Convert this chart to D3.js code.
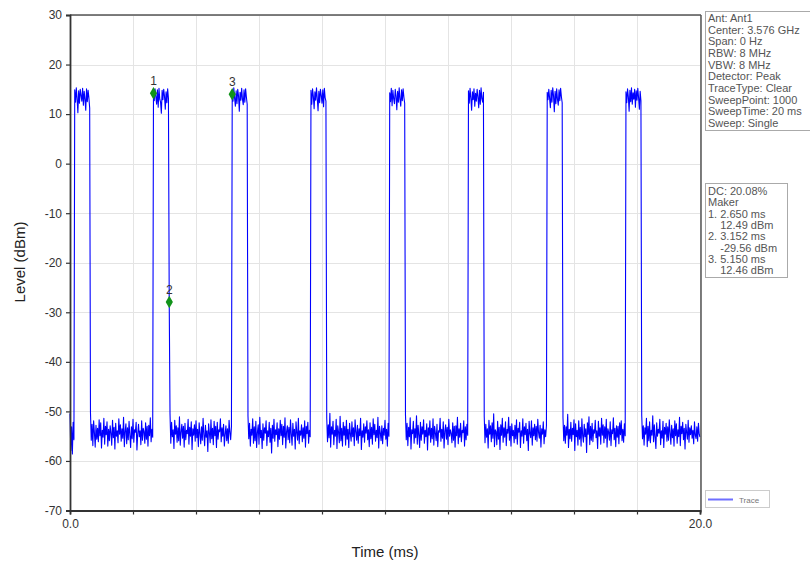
<!DOCTYPE html>
<html><head><meta charset="utf-8">
<script src="https://cdn.jsdelivr.net/npm/d3@7/dist/d3.min.js"></script>
<style>
body{margin:0;background:#fff}
text{font-family:"Liberation Sans",Arial,Helvetica,sans-serif}
</style>
</head><body>
<svg id="chart" width="810" height="565"></svg>
<script>
// ---------- data ----------
const sweepTimeMs = 20;
const xDomain = [0, 20];
const yDomain = [-70, 30];
const xTicks = [0, 2, 4, 6, 8, 10, 12, 14, 16, 18, 20];
const xTickLabels = ["0.0", "", "", "", "", "", "", "", "", "", "20.0"];
const yTicks = [30, 20, 10, 0, -10, -20, -30, -40, -50, -60, -70];

// trace levels (dBm), equally spaced sweep points over 0..20 ms
const traceLevels = [
-50.4,-57.9,-53.1,-58.6,-52.2,-55.7,
14.9,12.4,15.3,13.1,10.3,14.7,12.2,15.0,13.8,12.6,15.2,11.8,14.6,13.0,10.8,15.1,12.5,14.8,13.3,11.2,
-50.2,-55.8,-52.6,-56.9,-51.9,-54.3,-57.2,-52.8,-55.6,-53.4,
-56.1,-51.7,-54.9,-52.3,-57.4,-53.8,-55.2,-51.4,-56.6,-53.0,
-54.7,-52.1,-57.0,-53.6,-55.9,-52.9,-54.4,-56.8,-51.8,-55.3,
-53.2,-57.6,-52.4,-55.0,-53.9,-56.3,-51.5,-54.6,-52.7,-56.0,
-53.5,-55.4,-51.2,-57.1,-54.0,-52.5,-56.5,-53.3,-55.7,-52.0,
-54.8,-57.3,-53.1,-55.5,-51.6,-56.2,-53.7,-54.2,-52.2,-57.8,
-54.5,-52.6,-55.1,-53.9,-56.7,-51.9,-55.8,-53.4,-54.1,-56.4,
-52.3,-55.6,-53.0,-57.0,-52.8,-54.9,-51.3,-56.1,-53.6,-55.2,
14.2,12.7,15.1,13.5,12.0,14.9,11.4,15.2,13.0,12.4,10.2,14.8,12.9,15.0,13.6,11.0,14.5,12.3,15.1,13.2,
-27.9,
-50.5,-56.4,-52.2,-55.1,-53.7,-57.5,-51.8,-54.6,-52.9,-56.2,
-53.3,-55.9,-51.1,-56.8,-54.2,-52.6,-55.4,-53.0,-57.2,-52.4,
-55.7,-53.8,-54.5,-51.6,-56.6,-53.2,-55.0,-52.1,-57.7,-53.5,
-54.8,-52.7,-56.0,-51.9,-55.3,-53.6,-57.1,-52.3,-54.4,-56.5,
-53.1,-55.8,-51.4,-54.7,-56.9,-52.8,-55.2,-53.9,-58.1,-52.5,
-54.3,-56.3,-51.7,-55.5,-53.4,-56.7,-52.0,-54.9,-53.0,-57.3,
-52.2,-55.6,-53.7,-54.1,-51.5,-56.1,-53.3,-55.0,-52.6,-57.0,
-54.6,-52.9,-55.9,-53.5,-56.4,-51.8,-54.2,-55.7,-53.1,
14.0,12.6,15.3,13.2,11.6,14.7,12.1,15.0,13.7,10.6,14.4,12.8,15.2,13.0,11.9,14.9,12.4,15.1,13.4,12.0,
-50.9,-55.5,-52.4,-57.0,-53.6,-54.8,-51.5,-56.4,-53.1,-55.9,
-52.0,-57.3,-54.2,-52.7,-56.6,-51.2,-55.3,-53.8,-57.5,-52.5,
-55.8,-53.3,-54.4,-51.9,-56.9,-53.9,-55.1,-52.2,-56.2,-53.4,
-58.4,-52.8,-55.4,-51.6,-56.0,-53.7,-54.7,-52.3,-57.1,-53.5,
-55.6,-51.8,-54.9,-52.6,-56.7,-53.0,-55.2,-51.3,-57.4,-54.1,
-52.9,-55.7,-53.2,-56.3,-51.7,-54.6,-56.8,-52.4,-55.0,-53.6,
-57.6,-52.1,-54.3,-55.8,-51.4,-56.5,-53.9,-54.8,-52.7,-56.1,
-53.3,-55.4,-51.9,-57.2,-53.0,-54.5,-52.2,-56.4,-53.8,-55.1,
14.8,12.0,15.1,13.6,11.1,14.5,12.8,15.3,13.1,10.7,14.6,12.3,15.0,13.8,12.2,14.9,11.5,15.2,13.3,12.6,
-51.3,-56.1,-52.7,-55.3,-50.4,-57.2,-53.1,-54.6,-52.0,-56.7,
-53.8,-55.0,-51.6,-57.5,-52.9,-54.2,-56.3,-51.0,-55.9,-53.4,
-57.0,-52.2,-54.8,-53.0,-56.8,-51.8,-55.6,-53.6,-57.3,-52.4,
-54.5,-56.0,-52.1,-55.1,-53.3,-56.9,-51.7,-54.1,-55.8,-52.8,
-56.4,-53.5,-54.9,-51.4,-57.7,-53.9,-55.2,-52.5,-56.2,-53.1,
-54.4,-51.9,-55.7,-53.7,-57.1,-52.3,-55.5,-53.2,-56.6,-51.5,
-54.7,-52.6,-56.0,-53.8,-55.3,-51.2,-57.4,-53.0,-54.3,-55.9,
-52.9,-56.5,-53.4,-54.8,-51.8,-55.6,-53.6,-57.0,-52.4,-55.0,
14.3,12.5,15.2,11.7,14.8,13.1,12.1,15.0,13.6,10.9,14.6,12.4,15.3,13.0,11.6,14.9,12.7,15.1,13.4,12.2,
-50.7,-55.7,-52.4,-56.9,-53.2,-55.1,-51.3,-57.6,-53.7,-54.5,
-52.0,-56.4,-53.5,-55.3,-50.9,-56.6,-52.8,-54.7,-57.3,-52.2,
-55.8,-53.1,-54.6,-51.7,-56.4,-53.8,-55.1,-52.5,-57.8,-53.3,
-54.8,-51.9,-56.2,-53.4,-55.5,-51.5,-56.8,-53.0,-54.4,-55.9,
-52.6,-57.1,-53.9,-54.2,-51.4,-56.0,-53.6,-55.4,-52.1,-57.4,
-54.0,-52.7,-55.6,-53.2,-56.7,-51.6,-55.0,-53.7,-54.5,-56.3,
-52.3,-55.8,-53.0,-57.2,-52.9,-54.9,-51.2,-56.5,-53.5,-55.2,
-52.4,-56.1,-53.8,-54.3,-51.9,-57.0,-53.1,-55.7,-52.6,-54.8,
14.7,12.2,15.2,13.3,10.8,14.5,12.9,15.1,11.6,14.2,12.6,15.0,13.5,11.3,14.8,12.0,15.3,13.1,12.4,14.4,
-51.0,-56.3,-52.6,-55.2,-53.5,-57.4,-51.8,-54.6,-52.9,-56.1,
-52.3,-55.4,-50.5,-57.1,-53.7,-54.1,-56.7,-52.0,-55.6,-53.2,
-57.7,-52.7,-54.8,-51.4,-56.2,-53.3,-55.2,-52.1,-56.9,-53.6,
-54.4,-51.2,-55.8,-53.0,-57.0,-52.5,-54.9,-53.8,-56.3,-52.8,
-55.5,-51.7,-56.6,-53.4,-54.2,-52.2,-57.3,-53.9,-55.0,-51.5,
-56.4,-53.1,-54.7,-52.4,-55.9,-53.6,-57.9,-52.0,-54.5,-55.3,
-51.9,-56.8,-53.3,-54.9,-52.6,-55.7,-53.0,-56.0,-51.6,-54.3,
-55.4,-52.8,-57.2,-53.5,-54.6,-52.1,-56.5,-53.7,-55.1,-52.9,
14.4,12.9,15.0,13.2,11.3,14.8,12.4,15.3,13.7,10.5,14.6,12.1,15.1,13.0,11.8,14.9,12.7,15.2,13.5,12.3,
-51.2,-55.9,-52.8,-56.4,-53.1,-54.8,-50.6,-57.3,-53.6,-55.5,
-52.2,-56.0,-53.4,-54.7,-51.7,-57.9,-52.5,-55.1,-53.8,-56.8,
-51.9,-55.6,-53.2,-57.0,-51.5,-54.9,-56.2,-52.6,-55.1,-53.5,
-58.3,-52.3,-54.6,-51.1,-56.7,-53.0,-55.8,-52.4,-56.1,-53.7,
-54.4,-51.8,-55.3,-53.9,-57.5,-52.0,-55.0,-53.3,-56.6,-51.4,
-54.8,-52.7,-56.3,-53.1,-55.4,-51.6,-57.2,-53.5,-54.2,-55.8,
-52.1,-56.9,-53.7,-54.5,-51.3,-55.7,-53.4,-57.1,-52.9,-55.2,
-53.0,-56.5,-52.3,-54.7,-51.9,-55.9,-53.6,-56.2,-52.5,-54.9,
14.5,12.3,15.1,13.5,10.6,14.8,12.5,15.3,12.0,14.3,13.0,15.0,11.4,14.7,12.8,15.2,13.3,11.0,14.6,12.7,
-50.8,-55.5,-52.9,-56.8,-53.3,-54.6,-51.4,-57.1,-53.0,-55.9,
-52.1,-56.3,-53.8,-54.8,-50.9,-56.1,-52.7,-55.2,-57.5,-52.3,
-55.0,-53.6,-54.4,-51.6,-56.7,-53.9,-55.4,-52.0,-57.3,-53.2,
-54.6,-52.4,-56.0,-53.1,-55.8,-51.7,-54.3,-56.6,-52.8,-55.3,
-53.5,-57.0,-51.9,-54.9,-52.5,-56.4,-53.7,-55.1,-51.2,-56.9,
-53.0,-54.5,-52.2,-55.7,-53.4,-57.6,-52.6,-54.2,-55.6,-51.8,
-56.2,-53.3,-54.7,-52.9,-55.4,-53.8,-56.5,-52.1,-54.8,-55.5,
-53.1,-56.0,-52.4,-54.6,-55.2
];

const markerLabels = ["1", "2", "3"];
const markerTimes = [2.650, 3.152, 5.150];
const markerLevels = [14.2, -27.9, 14.0];

const infoLines = [
  "Ant: Ant1", "Center: 3.576 GHz", "Span: 0 Hz", "RBW: 8 MHz", "VBW: 8 MHz",
  "Detector: Peak", "TraceType: Clear", "SweepPoint: 1000", "SweepTime: 20 ms", "Sweep: Single"
];
const markerInfoLines = [
  "DC: 20.08%", "Maker", "1. 2.650 ms", "    12.49 dBm", "2. 3.152 ms",
  "    -29.56 dBm", "3. 5.150 ms", "    12.46 dBm"
];
const legendLabel = "Trace";
const xTitle = "Time (ms)";
const yTitle = "Level (dBm)";

// ---------- drawing ----------
const svg = d3.select("#chart");
const L = 70, R = 700, T = 15, B = 510.5;
const x = d3.scaleLinear().domain(xDomain).range([L, R]);
const y = d3.scaleLinear().domain(yDomain).range([B, T]);

svg.append("rect").attr("width", 810).attr("height", 565).attr("fill", "#fff");

// grid
const grid = svg.append("g");
grid.selectAll("line.h").data(yTicks).join("line")
  .attr("x1", L).attr("x2", R)
  .attr("y1", d => Math.round(y(d)) + 0.5).attr("y2", d => Math.round(y(d)) + 0.5)
  .attr("stroke", "#e4e4e4").attr("stroke-width", 1);
grid.selectAll("line.v").data(xTicks).join("line")
  .attr("y1", T).attr("y2", B)
  .attr("x1", d => Math.round(x(d)) + 0.5).attr("x2", d => Math.round(x(d)) + 0.5)
  .attr("stroke", "#e4e4e4").attr("stroke-width", 1);

// trace
const n = traceLevels.length;
const tracePts = traceLevels.map((v, i) => [i * sweepTimeMs / (n - 1), v]);
svg.append("path")
  .datum(tracePts)
  .attr("fill", "none")
  .attr("stroke", "#0000ff")
  .attr("stroke-width", 1.1)
  .attr("stroke-linejoin", "round")
  .attr("d", d3.line().x(d => x(d[0])).y(d => y(d[1])));

// frame: top and right
svg.append("line").attr("x1", L).attr("x2", R + 1).attr("y1", T).attr("y2", T)
  .attr("stroke", "#555").attr("stroke-width", 1.5);
svg.append("line").attr("x1", R + 1).attr("x2", R + 1).attr("y1", T).attr("y2", B + 2)
  .attr("stroke", "#555").attr("stroke-width", 1.5);

// axes
const yAxis = d3.axisLeft(y).tickValues(yTicks).tickSize(4).tickPadding(4)
  .tickFormat(d => String(d));
const gy = svg.append("g").attr("transform", `translate(${L},0)`).call(yAxis);
gy.select(".domain").attr("stroke", "#333").attr("stroke-width", 1.8);
gy.selectAll(".tick line").attr("stroke", "#333").attr("stroke-width", 1.2);
gy.selectAll(".tick text").attr("fill", "#333").style("font-size", "12px");

const xAxis = d3.axisBottom(x).tickValues(xTicks).tickSize(4).tickPadding(5)
  .tickFormat((d, i) => xTickLabels[i]);
const gx = svg.append("g").attr("transform", `translate(0,${B})`).call(xAxis);
gx.select(".domain").attr("stroke", "#333").attr("stroke-width", 1.8);
gx.selectAll(".tick line").attr("stroke", "#333").attr("stroke-width", 1.2);
gx.selectAll(".tick text").attr("fill", "#333").style("font-size", "12px");

// titles
svg.append("text").attr("x", 385).attr("y", 557).attr("text-anchor", "middle")
  .style("font-size", "15px").attr("fill", "#222").text(xTitle);
svg.append("text").attr("transform", "translate(25,262) rotate(-90)").attr("text-anchor", "middle")
  .style("font-size", "15px").attr("fill", "#222").text(yTitle);

// markers
const mk = svg.append("g");
mk.selectAll("path").data(markerTimes).join("path")
  .attr("transform", (d, i) => `translate(${x(d)},${y(markerLevels[i])})`)
  .attr("d", d3.symbol().type(d3.symbolDiamond).size(45))
  .attr("fill", "#11931a");
mk.selectAll("text").data(markerTimes).join("text")
  .attr("x", (d, i) => x(d)).attr("y", (d, i) => y(markerLevels[i]) - 8)
  .attr("text-anchor", "middle").style("font-size", "12px").attr("fill", "#333")
  .text((d, i) => markerLabels[i]);

// info box 1
svg.append("rect").attr("x", 705.5).attr("y", 11.5).attr("width", 130).attr("height", 119)
  .attr("fill", "#fff").attr("stroke", "#aaa");
svg.append("g").selectAll("text").data(infoLines).join("text")
  .attr("x", 708).attr("y", (d, i) => 22 + i * 11.67)
  .style("font-size", "11px").attr("fill", "#555").text(d => d);

// info box 2
svg.append("rect").attr("x", 705.5).attr("y", 183.5).attr("width", 82).attr("height", 94)
  .attr("fill", "#fff").attr("stroke", "#aaa");
svg.append("g").selectAll("text").data(markerInfoLines).join("text")
  .attr("x", 708).attr("y", (d, i) => 195 + i * 11.3)
  .attr("xml:space", "preserve").style("white-space", "pre")
  .style("font-size", "11px").attr("fill", "#555").text(d => d);

// legend
svg.append("rect").attr("x", 705.5).attr("y", 490.5).attr("width", 64).attr("height", 17)
  .attr("fill", "#fff").attr("stroke", "#ccc");
svg.append("line").attr("x1", 708).attr("x2", 733).attr("y1", 499.5).attr("y2", 499.5)
  .attr("stroke", "#6f6fff").attr("stroke-width", 2);
svg.append("text").attr("x", 739).attr("y", 502.5).style("font-size", "8px")
  .attr("fill", "#777").text(legendLabel);
</script>
</body></html>
